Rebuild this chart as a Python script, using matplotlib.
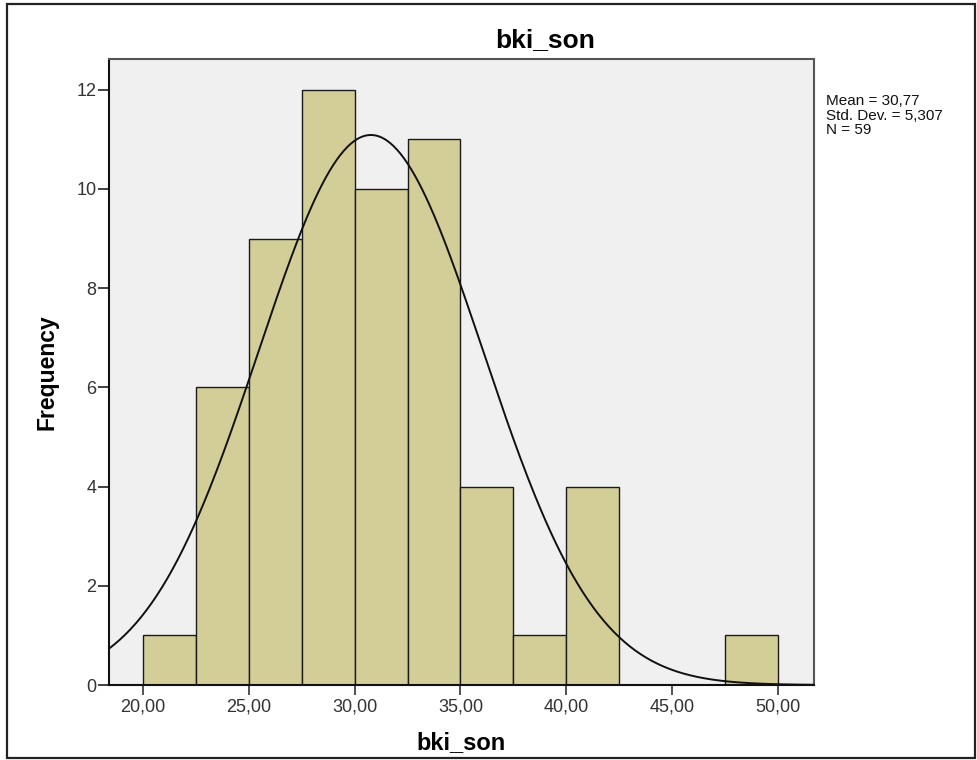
import matplotlib
matplotlib.use("Agg")
import matplotlib.pyplot as plt
from matplotlib.patches import Rectangle
import numpy as np

# histogram bins (width 2.5) and counts
bin_edges = [20.0, 22.5, 25.0, 27.5, 30.0, 32.5, 35.0, 37.5, 40.0, 42.5, 45.0, 47.5, 50.0]
counts = [1, 6, 9, 12, 10, 11, 4, 1, 4, 0, 0, 1]

# summary statistics printed on the chart
mean = 30.77
std_dev = 5.307
n_obs = 59
stats_lines = ["Mean = 30,77", "Std. Dev. = 5,307", "N = 59"]

x_ticks = [20, 25, 30, 35, 40, 45, 50]
x_tick_labels = ["20,00", "25,00", "30,00", "35,00", "40,00", "45,00", "50,00"]
y_ticks = [0, 2, 4, 6, 8, 10, 12]


def main():
    plt.rcParams['font.family'] = ['Liberation Sans', 'DejaVu Sans']

    W, H = 977, 760
    fig = plt.figure(figsize=(W / 100, H / 100), dpi=100)
    fig.patch.set_facecolor("white")

    # plot area in pixels: x 109..814, y 59..685
    ax = fig.add_axes([109 / W, (H - 685) / H, (814 - 109) / W, (685 - 59) / H])
    ax.set_facecolor("#F0F0F0")

    lefts = bin_edges[:-1]
    widths = np.diff(bin_edges)
    ax.bar(lefts, counts, width=widths, align="edge", color="#D3CE98",
           edgecolor="#1a1a1a", linewidth=1.0, zorder=2)

    # fitted normal curve scaled to counts
    xlim = (18.4, 51.7)
    xs = np.linspace(xlim[0], xlim[1], 400)
    bw = bin_edges[1] - bin_edges[0]
    ys = n_obs * bw / (std_dev * np.sqrt(2 * np.pi)) * np.exp(-0.5 * ((xs - mean) / std_dev) ** 2)
    ax.plot(xs, ys, color="#111111", linewidth=1.4, zorder=3)

    ax.set_xlim(*xlim)
    ax.set_ylim(0, 12.62)

    ax.set_xticks(x_ticks)
    ax.set_xticklabels(x_tick_labels)
    ax.set_yticks(y_ticks)
    ax.set_yticklabels([str(v) for v in y_ticks])
    ax.tick_params(axis="x", direction="out", length=7, width=1.2, pad=3,
                   labelsize=13, labelcolor="#333333", color="#333333")
    ax.tick_params(axis="y", direction="out", length=8, width=1.2, pad=1,
                   labelsize=13, labelcolor="#333333", color="#222222")

    for side in ["left", "bottom"]:
        ax.spines[side].set_color("#111111")
        ax.spines[side].set_linewidth(1.5)
    for side in ["top", "right"]:
        ax.spines[side].set_color("#555555")
        ax.spines[side].set_linewidth(1.5)

    ax.set_xlabel("bki_son", fontsize=17, fontweight="bold", labelpad=11)
    ax.set_ylabel("Frequency", fontsize=16.5, fontweight="bold", labelpad=13)

    fig.text(545 / W, 1 - 40 / H, "bki_son", fontsize=19, fontweight="bold",
             ha="center", va="center")

    for i, line in enumerate(stats_lines):
        fig.text(826 / W, 1 - (101 + 14.5 * i) / H, line, fontsize=11,
                 ha="left", va="center", color="#111111")

    # outer frame
    fig.patches.append(Rectangle((7 / W, 2 / H), (975 - 7) / W, (756 - 2) / H,
                                 transform=fig.transFigure, fill=False,
                                 edgecolor="#222222", linewidth=1.6))

    fig.savefig("out.png", dpi=100)


if __name__ == "__main__":
    main()
